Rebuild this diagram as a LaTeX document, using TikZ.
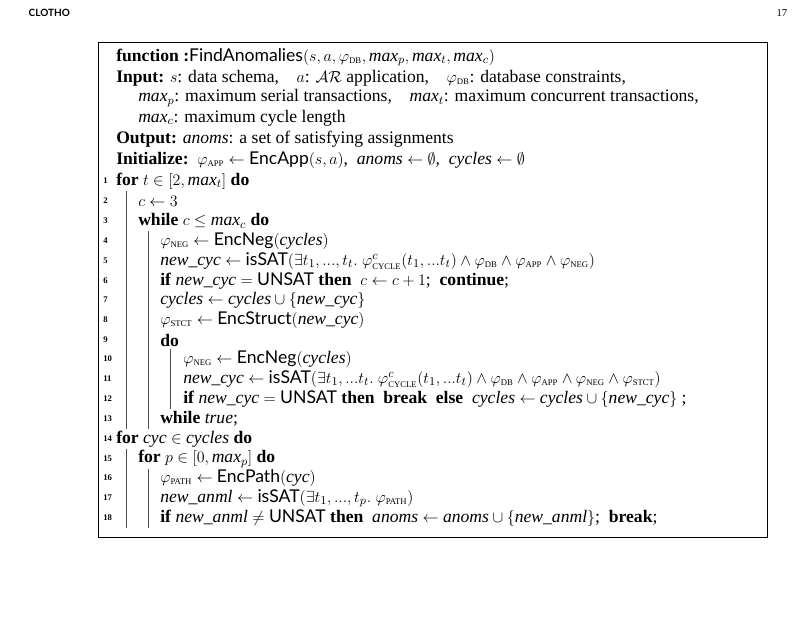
\documentclass[tikz,border=0pt]{standalone}
\usepackage{amsmath}
\usepackage{amssymb}
\usepackage{fontspec}
\setmainfont{Liberation Serif}
\setsansfont{Lato}
\usetikzlibrary{positioning}
\newcommand{\kw}[1]{\textbf{#1}}
\newcommand{\fn}[1]{\textsf{#1}}
\newcommand{\sub}[1]{_{\text{\fontsize{6.5}{7}\selectfont #1}}}
\newcommand{\vv}[1]{\textit{#1}}

\begin{document}
\begin{tikzpicture}[x=0.75pt,y=-0.75pt,font=\fontsize{13.2}{14}\selectfont]
  \tikzstyle{line}=[anchor=west,inner sep=0pt]
  \tikzstyle{num}=[anchor=west,inner sep=0pt,font=\fontsize{6.5}{7}\selectfont\bfseries]
  \tikzstyle{bar}=[line width=0.5pt,black!70]

  \useasboundingbox (0,0) rectangle (801,620);
  \node[anchor=west,font=\sffamily\bfseries\fontsize{7.5}{8}\selectfont] (head) at (24,13) {CLOTHO};
  \node[anchor=east,font=\fontsize{8}{9}\selectfont] (page) at (792,13) {17};
  \draw[line width=0.6pt] (98,42) rectangle (767,537);

  % header of the algorithm
  \node[line] (fun) at (116,57) {\kw{function :}\fn{FindAnomalies}$(s,a,\varphi\sub{DB},\vv{max}_p,\vv{max}_t,\vv{max}_c)$};
  \node[line] (in1) at (116,78) {\kw{Input:} $s$: data schema,\quad $a$: $\mathcal{AR}$ application,\quad $\varphi\sub{DB}$: database constraints,};
  \node[line] (in2) at (138,98) {$\vv{max}_p$: maximum serial transactions,\quad $\vv{max}_t$: maximum concurrent transactions,};
  \node[line] (in3) at (138,118) {$\vv{max}_c$: maximum cycle length};
  \node[line] (out) at (116,139) {\kw{Output:} \textit{anoms}: a set of satisfying assignments};
  \node[line] (ini) at (116,160) {\kw{Initialize:}\ \ $\varphi\sub{APP}\leftarrow\fn{EncApp}(s,a)$,\ \ $\vv{anoms}\leftarrow\emptyset$,\ \ $\vv{cycles}\leftarrow\emptyset$};

  % body
  \node[line] (l1) at (116,181) {\kw{for} $t\in[2,\vv{max}_t]$ \kw{do}};
  \node[line] (l2) at (138,201) {$c\leftarrow 3$};
  \node[line] (l3) at (138,221) {\kw{while} $c\le \vv{max}_c$ \kw{do}};
  \node[line] (l4) at (160,241) {$\varphi\sub{NEG}\leftarrow\fn{EncNeg}(\vv{cycles})$};
  \node[line] (l5) at (160,261) {$\vv{new\_cyc}\leftarrow\fn{isSAT}(\exists t_1,...,t_t.\ \varphi^c\sub{CYCLE}(t_1,...t_t)\wedge\varphi\sub{DB}\wedge\varphi\sub{APP}\wedge\varphi\sub{NEG})$};
  \node[line] (l6) at (160,281) {\kw{if} $\vv{new\_cyc}=\fn{UNSAT}$ \kw{then}\ \ $c\leftarrow c+1$;\ \ \kw{continue};};
  \node[line] (l7) at (160,300) {$\vv{cycles}\leftarrow\vv{cycles}\cup\{\vv{new\_cyc}\}$};
  \node[line] (l8) at (160,320) {$\varphi\sub{STCT}\leftarrow\fn{EncStruct}(\vv{new\_cyc})$};
  \node[line] (l9) at (160,340) {\kw{do}};
  \node[line] (l10) at (183,359) {$\varphi\sub{NEG}\leftarrow\fn{EncNeg}(\vv{cycles})$};
  \node[line] (l11) at (183,379) {$\vv{new\_cyc}\leftarrow\fn{isSAT}(\exists t_1,...t_t.\ \varphi^c\sub{CYCLE}(t_1,...t_t)\wedge\varphi\sub{DB}\wedge\varphi\sub{APP}\wedge\varphi\sub{NEG}\wedge\varphi\sub{STCT})$};
  \node[line] (l12) at (183,399) {\kw{if} $\vv{new\_cyc}=\fn{UNSAT}$ \kw{then}\ \ \kw{break}\ \ \kw{else}\ \ $\vv{cycles}\leftarrow\vv{cycles}\cup\{\vv{new\_cyc}\}$ ;};
  \node[line] (l13) at (160,419) {\kw{while} \textit{true};};
  \node[line] (l14) at (116,439) {\kw{for} $\vv{cyc}\in\vv{cycles}$ \kw{do}};
  \node[line] (l15) at (138,459) {\kw{for} $p\in[0,\vv{max}_p]$ \kw{do}};
  \node[line] (l16) at (160,478) {$\varphi\sub{PATH}\leftarrow\fn{EncPath}(\vv{cyc})$};
  \node[line] (l17) at (160,498) {$\vv{new\_anml}\leftarrow\fn{isSAT}(\exists t_1,...,t_p.\ \varphi\sub{PATH})$};
  \node[line] (l18) at (160,518) {\kw{if} $\vv{new\_anml}\ne\fn{UNSAT}$ \kw{then}\ \ $\vv{anoms}\leftarrow\vv{anoms}\cup\{\vv{new\_anml}\}$;\ \ \kw{break};};

  % line numbers
  \foreach \i/\y in {1/181,2/201,3/221,4/241,5/261,6/281,7/300,8/320,9/340,10/359,
                     11/379,12/399,13/419,14/439,15/459,16/478,17/498,18/518}
    \node[num] (n\i) at (103,\y) {\i};

  % block bars
  \draw[bar] (126,191) -- (126,429);
  \draw[bar] (148,231) -- (148,429);
  \draw[bar] (170,349) -- (170,409);
  \draw[bar] (126,449) -- (126,528);
  \draw[bar] (148,469) -- (148,528);
\end{tikzpicture}
\end{document}
